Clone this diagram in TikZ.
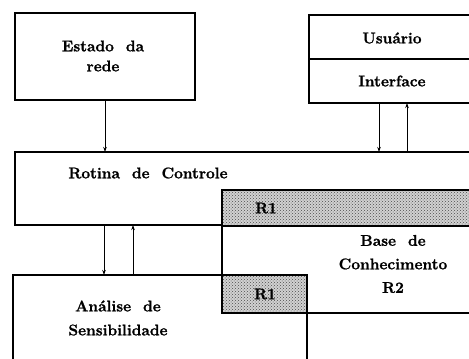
\documentclass[tikz,border=0pt]{standalone}
\usepackage{fontspec}
\newfontfamily\diagff{Latin Modern Roman}[BoldFeatures={FakeBold=1.2}]
\usetikzlibrary{arrows.meta,patterns}
\newcommand\diagfont[1]{\diagff\bfseries\fontsize{15.5}{#1}\selectfont\spaceskip=12pt plus 1pt\relax}
\begin{document}
\begin{tikzpicture}[x=1pt,y=-1pt,
  box/.style={draw=black,line width=1.3pt,fill=white,anchor=north west,inner sep=0pt,outer sep=0pt},
  shade/.style={box,preaction={fill=black!18},pattern=crosshatch dots,pattern color=black!70},
  txt/.style={font=\diagfont{20},align=center,inner sep=0pt},
  arr/.style={line width=0.7pt,-{Stealth[length=5pt,width=3.5pt]}}]
\useasboundingbox (0,0) rectangle (469,359);
\clip (0,0) rectangle (469,359);
% boxes
\node[box,minimum width=180pt,minimum height=87pt] (estado) at (15,13) {};
\node[box,minimum width=200pt,minimum height=44pt] (usuario) at (309,15) {};
\node[box,minimum width=200pt,minimum height=44pt] (interface) at (309,59) {};
\node[box,minimum width=500pt,minimum height=73pt] (rotina) at (15,152) {};
\node[box,minimum width=300pt,minimum height=123pt] (kb) at (222,190) {};
\node[shade,minimum width=300pt,minimum height=36pt] (kbr) at (222,190) {};
\node[box,minimum width=294pt,minimum height=120pt] (analise) at (13,275) {};
\node[shade,minimum width=85pt,minimum height=38pt] (anr) at (222,275) {};
% texts
\node[txt] (testado) at (103,56) {Estado da\\rede};
\node[txt] (tusuario) at (392,38) {Usuário};
\node[txt] (tinterface) at (392,81) {Interface};
\node[txt] (trotina) at (148,173) {Rotina de Controle};
\node[txt] (tkbr) at (266,208) {R1};
\node[txt,font=\diagfont{23.5}] (tkb) at (393,264) {Base de\\Conhecimento\\R2};
\node[txt] (tanr) at (265,294) {R1};
\node[txt,font=\diagfont{24}] (tanalise) at (118,318) {Análise de\\Sensibilidade};
% arrow positions
\coordinate (ud) at (379,0);
\coordinate (uu) at (407,0);
\coordinate (ad) at (104,0);
\coordinate (au) at (133,0);
% connectors
\draw[arr] (estado.south) -- (estado.south |- rotina.north);
\draw[arr] (ud |- interface.south) -- (ud |- rotina.north);
\draw[arr] (uu |- rotina.north) -- (uu |- interface.south);
\draw[arr] (ad |- rotina.south) -- (ad |- analise.north);
\draw[arr] (au |- analise.north) -- (au |- rotina.south);
\end{tikzpicture}
\end{document}
